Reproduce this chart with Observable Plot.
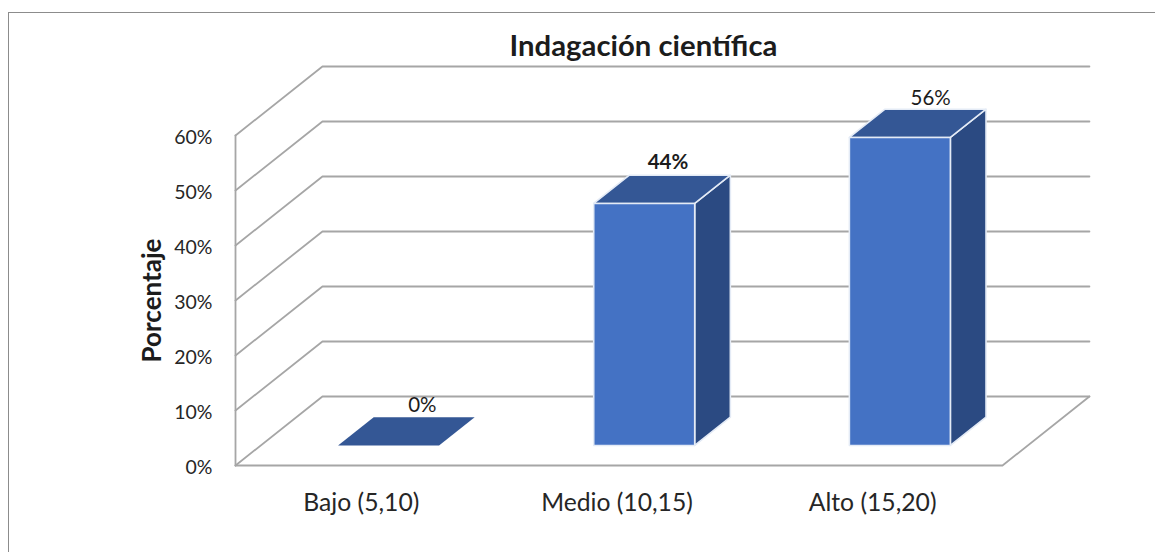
<!DOCTYPE html>
<html lang="es">
<head>
<meta charset="utf-8">
<script src="https://cdn.jsdelivr.net/npm/d3@7"></script>
<script src="https://cdn.jsdelivr.net/npm/@observablehq/plot@0.6"></script>
<style>
html,body{margin:0;padding:0;background:#fff;overflow:hidden}
#frame{position:absolute;left:8px;top:12px;right:0;bottom:0;border-left:1px solid #8c8c8c;border-top:1px solid #8c8c8c;pointer-events:none}
</style>
</head>
<body>
<div id="chart"></div>
<div id="frame"></div>
<script>
const categories = ["Bajo (5,10)", "Medio (10,15)", "Alto (15,20)"];
const values = [0, 44, 56];
const ticks = [0, 10, 20, 30, 40, 50, 60];
const title = "Indagación científica";
const yTitle = "Porcentaje";

// oblique 3D projection, expressed in data units
const depthX = 0.34, depthY = 12.55;
const barWidth = 0.395, zNear = 0.29, zFar = 0.70;
const p = (c, v, z) => ({x: c + depthX * z, y: v + depthY * z});
const n = categories.length;

const walls = ticks.map(t => [p(0, t, 0), p(0, t, 1), p(n, t, 1)]);
const floorEdge = [p(0, 0, 0), p(n, 0, 0), p(n, 0, 1)];
const leftEdge = [p(0, 0, 0), p(0, 60, 0)];

const face = (pts, i) => [...pts, pts[0]].map(q => ({...q, i}));
const bars = categories.map((_, i) => {
  const a = i + 0.5 - barWidth / 2, b = i + 0.5 + barWidth / 2, v = values[i];
  return {
    front: face([p(a,0,zNear), p(b,0,zNear), p(b,v,zNear), p(a,v,zNear)], i),
    side: face([p(b,0,zNear), p(b,0,zFar), p(b,v,zFar), p(b,v,zNear)], i),
    top: face([p(a,v,zNear), p(b,v,zNear), p(b,v,zFar), p(a,v,zFar)], i),
    v
  };
});
const solid = bars.filter(b => b.v > 0);
const flat = bars.filter(b => b.v === 0);
const gridStyle = {x: "x", y: "y", stroke: "#a6a6a6", strokeWidth: 1.8};
const faceStyle = {x: "x", y: "y", z: "i", stroke: "#e4ebf6", strokeWidth: 1.6};

const labelDx = [16, 6, 13], labelDy = [-12, -13, -11];
const labelWeight = ["normal", "bold", "normal"];
const font = "Lato, Carlito, 'Noto Sans', sans-serif";

const plot = Plot.plot({
  width: 1155, height: 552,
  marginLeft: 235, marginRight: 153, marginTop: 135, marginBottom: 87,
  x: {domain: [0, n]},
  y: {domain: [0, 60]},
  style: {fontFamily: font, background: "transparent", overflow: "visible"},
  marks: [
    ...walls.map(w => Plot.line(w, gridStyle)),
    Plot.line(floorEdge, gridStyle),
    Plot.line(leftEdge, gridStyle),
    Plot.line(solid.flatMap(b => b.side), {...faceStyle, fill: "#2b4a82"}),
    Plot.line(solid.flatMap(b => b.top), {...faceStyle, fill: "#345795"}),
    Plot.line(solid.flatMap(b => b.front), {...faceStyle, fill: "#4472c4"}),
    Plot.line(flat.flatMap(b => b.top), {x: "x", y: "y", z: "i", fill: "#345795"}),
    ...categories.map((_, i) => {
      const q = p(i + 0.5, values[i], (zNear + zFar) / 2);
      const r = p(i + 0.5, values[i], zFar);
      return Plot.text([values[i]], {
        x: () => q.x, y: () => r.y, text: d => d + "%",
        dx: labelDx[i], dy: labelDy[i], fontSize: 20.5,
        fontWeight: labelWeight[i], fill: "#1c1c1c"
      });
    }),
    Plot.axisY({ticks, tickSize: 0, tickPadding: 23, dy: 2, label: null,
      tickFormat: d => d + "%", fontSize: 19.5, fill: "#262626"}),
    Plot.axisX({ticks: categories.map((_, i) => i + 0.5), tickSize: 0, tickPadding: 28, dx: -2, label: null,
      tickFormat: d => categories[d - 0.5], fontSize: 24.7, fill: "#262626"}),
    Plot.text([title], {frameAnchor: "top", dx: 24.5, dy: -100, fontSize: 29.3, fontWeight: "bold", fill: "#1c1c1c"}),
    Plot.text([yTitle], {frameAnchor: "left", dx: -83, rotate: -90, textAnchor: "middle", fontSize: 26, fontWeight: "bold", fill: "#1c1c1c"})
  ]
});
document.getElementById("chart").appendChild(plot);
</script>
</body>
</html>
